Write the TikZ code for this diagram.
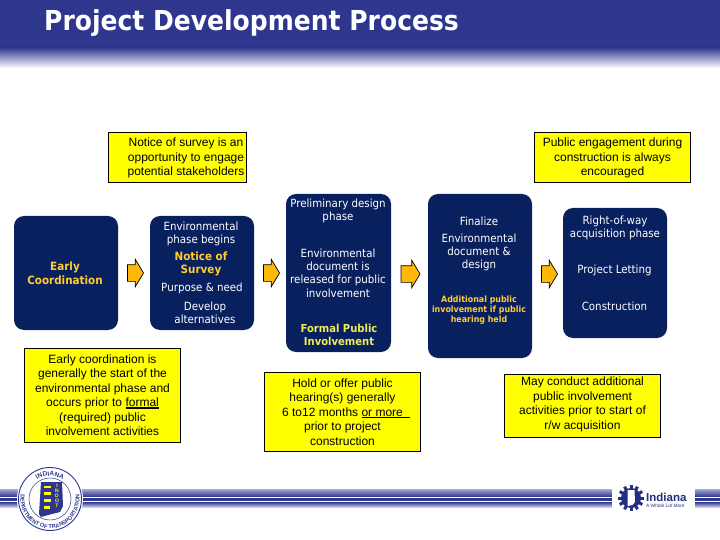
\documentclass[tikz,border=0pt]{standalone}
\usepackage{fontspec}
\setmainfont{Liberation Sans}
\newfontfamily\vfont[FakeStretch=0.91]{DejaVu Sans}
\usetikzlibrary{shapes.arrows,decorations.text}
\definecolor{hdr}{HTML}{2E368E}
\definecolor{navy}{HTML}{08205E}
\definecolor{ylw}{HTML}{FFFF00}
\definecolor{gold}{HTML}{FFCC33}
\definecolor{lime}{HTML}{EEEE55}
\definecolor{arr}{HTML}{FFB80A}
\definecolor{pale}{HTML}{A9ADD6}
\newcommand{\ulx}[1]{\setbox0\hbox{#1}\rlap{\rule[-2pt]{\wd0}{1.1pt}}#1}
\tikzset{
  notebox/.style={draw=black,line width=0.9pt,fill=ylw,inner sep=0pt},
  notetext/.style={align=center,text=black,inner sep=0pt,font=\fontsize{12}{14.5}\selectfont},
  phasebox/.style={fill=navy,rounded corners=10pt,inner sep=0pt},
  phasetext/.style={align=center,text=white,inner sep=0pt,font=\vfont\fontsize{11.3}{13.2}\selectfont},
  keytext/.style={align=center,text=gold,inner sep=0pt,font=\vfont\bfseries\fontsize{11.4}{13.6}\selectfont},
  flowarrow/.style={single arrow,draw=black,line width=0.7pt,fill=arr,inner ysep=8pt,inner xsep=0pt,
    minimum height=16pt,single arrow head extend=5.5pt,single arrow tip angle=118},
}
\begin{document}
\begin{tikzpicture}[x=1pt,y=-1pt]
\useasboundingbox (0,0) rectangle (720,540);
% header
\fill[hdr] (0,0) rectangle (720,48);
\shade[top color=hdr,bottom color=white] (0,47.5) rectangle (720,68);
\node[anchor=base west,inner sep=0pt,text=white,font=\vfont\bfseries\fontsize{27.5}{30}\selectfont] (title) at (44,31) {Project Development Process};
% footer band
\shade[top color=pale,bottom color=hdr] (0,489) rectangle (720,496.5);
\fill[white] (0,496.5) rectangle (720,498);
\fill[hdr] (0,498) rectangle (720,500.5);
\fill[white] (0,500.5) rectangle (720,502);
\shade[top color=hdr,bottom color=pale!60] (0,502) rectangle (720,507);
% seal
\fill[white] (50,499) circle (33);
\draw[hdr,line width=0.9pt] (50,499) circle (31.5);
\draw[hdr,line width=0.5pt] (50,499) circle (21);
\path[decorate,decoration={text along path,text align=center,
  text={|\fontsize{6.5}{7}\selectfont\bfseries\color{hdr}|INDIANA}}]
  (27,499) arc[start angle=180,end angle=360,radius=23];
\path[decorate,decoration={text along path,text align=center,
  text={|\fontsize{5.6}{6}\selectfont\bfseries\color{hdr}|DEPARTMENT OF TRANSPORTATION}}]
  (21.6,491) arc[start angle=196,end angle=-16,radius=29.5];
\fill[hdr] (41,482) -- (62,482) -- (63,506) -- (60,512) -- (52,514) -- (41,517) -- (39,514) -- cycle;
\foreach \yy/\ch in {486/I,491/N,496/D,501/O,506/T}
  \node[inner sep=0pt,text=ylw,font=\bfseries\fontsize{5}{5}\selectfont] at (57,\yy) {\ch};
\fill[ylw] (44,486) rectangle (51,488);
\fill[ylw] (44,492) rectangle (51,495);
\fill[ylw] (44,499) rectangle (51,502);
\fill[ylw] (44,506) rectangle (50,509);
% Indiana logo
\fill[white] (612,480) rectangle (695,515);
\foreach \a in {0,30,...,330}
  \fill[hdr!70!navy,rotate around={\a:(631,498)}] (629.5,485) rectangle (632.5,489);
\fill[hdr!70!navy] (631,498) circle (10);
\fill[white] (627.5,490) -- (634.5,490) -- (635,502) -- (632.5,505) -- (627.5,506) -- cycle;
\node[anchor=base west,inner sep=0pt,text=hdr!70!navy,font=\bfseries\fontsize{11.5}{12}\selectfont] (ind) at (646,501) {Indiana};
\node[anchor=west,inner sep=0pt,text=hdr!70!navy,font=\fontsize{4.8}{6}\selectfont] (more) at (646,505.5) {A Whole Lot More};
% note boxes
\draw[notebox] (108.5,132.5) rectangle (246.5,182.5);
\node[notetext] (n1) at (186,158) {Notice of survey is an\\opportunity to engage\\potential stakeholders};
\draw[notebox] (534.5,132.5) rectangle (690.5,182.5);
\node[notetext] (n2) at (612.5,158) {Public engagement during\\construction is always\\encouraged};
\draw[notebox] (24.5,348.5) rectangle (180.5,442.5);
\node[notetext] (n3) at (102.5,395) {Early coordination is\\generally the start of the\\environmental phase and\\occurs prior to \ulx{formal}\\(required) public\\involvement activities};
\draw[notebox] (264.5,372.5) rectangle (420.5,451.5);
\node[notetext] (n4) at (342.5,412) {Hold or offer public\\hearing(s) generally\\6 to12 months \ulx{or more\ \ }\\prior to project\\construction};
\draw[notebox] (504.5,374.5) rectangle (660.5,437.5);
\node[notetext] (n5) at (582.5,404.5) {May conduct additional\\public involvement\\activities prior to start of\\r/w acquisition};
% phase boxes
\fill[phasebox] (14,216) rectangle (118,330);
\fill[phasebox] (150,216) rectangle (254,330);
\fill[phasebox] (286,194) rectangle (391,352);
\fill[phasebox] (428,194) rectangle (532,358);
\fill[phasebox] (563,208) rectangle (667,338);
% phase text
\node[keytext] (a1) at (65,273) {Early\\Coordination};
\node[phasetext] (b1) at (201,233.5) {Environmental\\phase begins};
\node[keytext] (b2) at (201,264) {Notice of\\Survey};
\node[phasetext] (b3) at (202,288) {Purpose \& need};
\node[phasetext] (b4) at (205,312.5) {Develop\\alternatives};
\node[phasetext] (c1) at (338,210.5) {Preliminary design\\phase};
\node[phasetext] (c2) at (338,273) {Environmental\\document is\\released for public\\involvement};
\node[keytext,text=lime,font=\vfont\bfseries\fontsize{11}{13.6}\selectfont] (c3) at (339,335) {Formal Public\\Involvement};
\node[phasetext] (d1) at (479,221) {Finalize};
\node[phasetext] (d2) at (479,252.5) {Environmental\\document \&\\design};
\node[keytext,font=\vfont\bfseries\fontsize{8.7}{9.8}\selectfont] (d3) at (479,310) {Additional public\\involvement if public\\hearing held};
\node[phasetext] (e1) at (615,228) {Right-of-way\\acquisition phase};
\node[phasetext] (e2) at (614.5,270.5) {Project Letting};
\node[phasetext] (e3) at (614.5,306.5) {Construction};
% arrows
\node[flowarrow] (f1) at (133,273) {};
\node[flowarrow] (f2) at (269,273) {};
\node[flowarrow,minimum height=19pt] (f3) at (408,274) {};
\node[flowarrow] (f4) at (547,274) {};
\end{tikzpicture}
\end{document}
